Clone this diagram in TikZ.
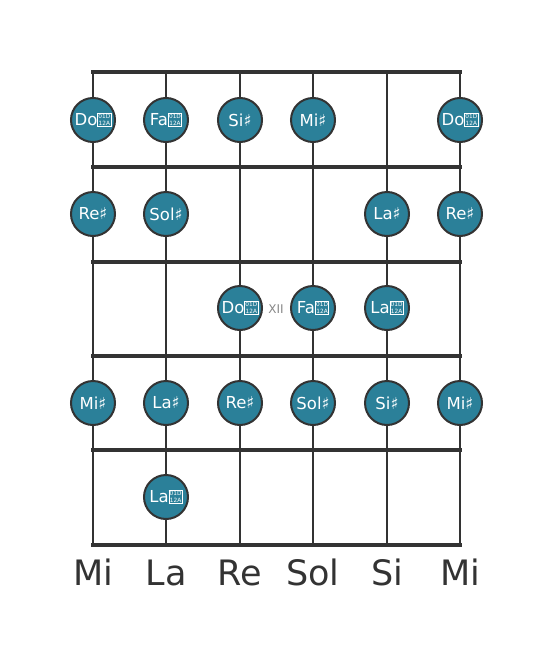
\documentclass[tikz,border=0pt]{standalone}
\usepackage{fontspec}
\setmainfont{DejaVu Sans}
\definecolor{linec}{HTML}{333333}
\definecolor{dotc}{HTML}{2B8099}
\definecolor{xiic}{HTML}{888888}
\newcommand\tofubox{\setlength\fboxsep{0.5pt}\setlength\fboxrule{0.6pt}\raisebox{-0.3pt}{\fbox{\fontsize{5.8}{5.9}\selectfont\shortstack{01D\\12A}}}}
\tikzset{
  fretline/.style={line width=4.5pt, draw=linec},
  strline/.style={line width=2.8pt, draw=linec},
  notedot/.style={circle, minimum size=44pt, inner sep=0pt, fill=dotc, draw=linec, line width=2pt, text=white, font=\fontsize{16.5}{16.5}\selectfont},
  strlabel/.style={text=linec, font=\fontsize{35}{35}\selectfont, anchor=base},
  xiilabel/.style={text=xiic, font=\fontsize{12}{12}\selectfont}
}
\begin{document}
\begin{tikzpicture}[x=1pt,y=-1pt]
\useasboundingbox (0,0) rectangle (553,656);
\foreach \n/\x in {1/93,2/166,3/240,4/313,5/387,6/460}{
  \coordinate (t\n) at (\x,72);
  \coordinate (b\n) at (\x,545);
}
\foreach \n in {1,...,6}{ \draw[strline] (t\n) -- (b\n); }
\foreach \y/\k in {72/0,167/1,262/2,356/3,450/4,545/5}{
  \coordinate (fl\k) at (93,\y);
  \coordinate (fr\k) at (460,\y);
}
\foreach \k in {0,...,5}{ \draw[fretline, line cap=rect] (fl\k) -- (fr\k); }
% fret 1
\node[notedot] (n11) at (93,120) {Do\tofubox};
\node[notedot] (n12) at (166,120) {Fa\tofubox};
\node[notedot] (n13) at (240,120) {Si♯};
\node[notedot] (n14) at (313,120) {Mi♯};
\node[notedot] (n16) at (460,120) {Do\tofubox};
% fret 2
\node[notedot] (n21) at (93,214) {Re♯};
\node[notedot] (n22) at (166,214) {Sol♯};
\node[notedot] (n25) at (387,214) {La♯};
\node[notedot] (n26) at (460,214) {Re♯};
% fret 3
\node[notedot] (n33) at (240,308) {Do\tofubox};
\node[notedot] (n34) at (313,308) {Fa\tofubox};
\node[notedot] (n35) at (387,308) {La\tofubox};
\node[xiilabel] (xii) at (276,309) {XII};
% fret 4
\node[notedot] (n41) at (93,403) {Mi♯};
\node[notedot] (n42) at (166,403) {La♯};
\node[notedot] (n43) at (240,403) {Re♯};
\node[notedot] (n44) at (313,403) {Sol♯};
\node[notedot] (n45) at (387,403) {Si♯};
\node[notedot] (n46) at (460,403) {Mi♯};
% fret 5
\node[notedot] (n52) at (166,497) {La\tofubox};
% string labels
\node[strlabel] (s1) at (93,585) {Mi};
\node[strlabel] (s2) at (166,585) {La};
\node[strlabel] (s3) at (240,585) {Re};
\node[strlabel] (s4) at (313,585) {Sol};
\node[strlabel] (s5) at (387,585) {Si};
\node[strlabel] (s6) at (460,585) {Mi};
\end{tikzpicture}
\end{document}
